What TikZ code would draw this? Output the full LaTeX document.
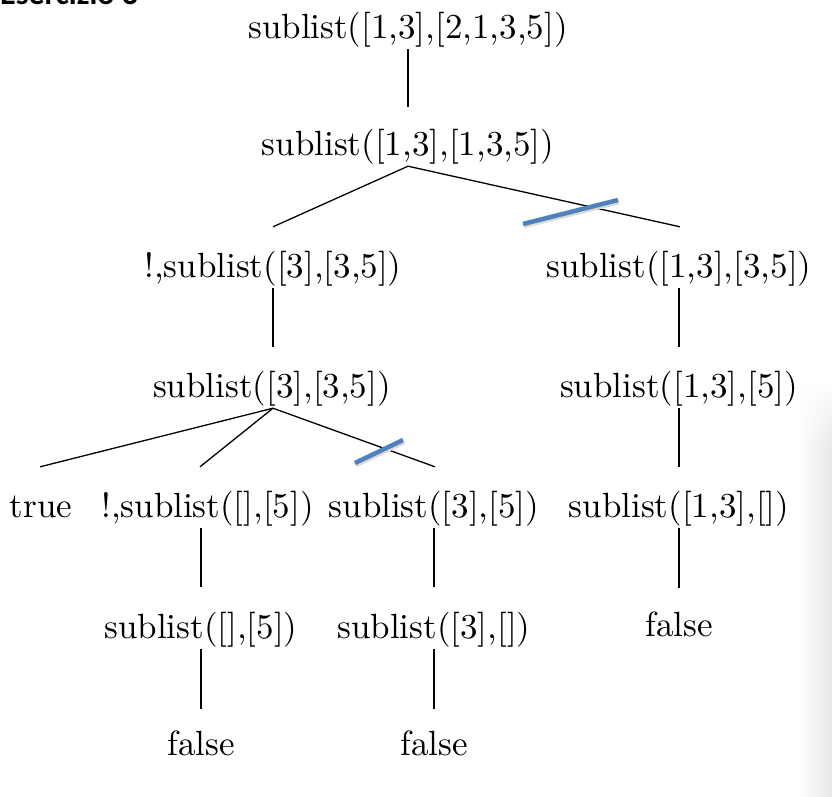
\documentclass[tikz,border=0pt]{standalone}
\usepackage{fontspec}
\newfontfamily\headfont{Carlito}
\newfontfamily\tenfont{lmroman10-regular}[Extension=.otf]
\usetikzlibrary{calc,fadings}
\definecolor{cutblue}{HTML}{4F81BD}
\tikzset{
  term/.style={inner sep=0pt, anchor=base, text height=26pt, text depth=11pt,
               font=\tenfont\fontsize{35}{42}\selectfont},
  edge/.style={line width=1.3pt, black},
  cutmark/.style={line width=4.5pt, cutblue},
  cutshadow/.style={line width=4.5pt, black!15}
}
\begin{document}
\begin{tikzpicture}[x=1pt,y=1pt]
\useasboundingbox (0,0) rectangle (832,-796);
\clip (0,0) rectangle (832,-796);
\fill[white] (0,0) rectangle (832,-796);
% faint page shadow at the right edge
\shade[left color=white, right color=black!9] (797,-450) rectangle (832,-796);
\shade[left color=white, right color=black!9, path fading=north] (797,-380) rectangle (832,-450);

% heading, cut off at the top
\node[anchor=base west, inner sep=0pt, font=\headfont\bfseries\fontsize{32}{38}\selectfont] (head) at (0,-4) {Esercizio 3};

% nodes
\node[term] (n1) at (408,-38) {sublist([1,3],[2,1,3,5])};
\node[term] (n2) at (408,-155) {sublist([1,3],[1,3,5])};
\node[term] (n3) at (273,-277) {!,sublist([3],[3,5])};
\node[term] (n4) at (679,-277) {sublist([1,3],[3,5])};
\node[term] (n5) at (272,-397) {sublist([3],[3,5])};
\node[term] (n6) at (679,-397) {sublist([1,3],[5])};
\node[term] (t)  at (41,-517) {true};
\node[term] (c2) at (207.5,-517) {!,sublist([],[5])};
\node[term] (c3) at (434,-517) {sublist([3],[5])};
\node[term] (n7) at (679,-517) {sublist([1,3],[])};
\node[term] (d1) at (201,-638) {sublist([],[5])};
\node[term] (d2) at (434,-638) {sublist([3],[])};
\node[term] (f3) at (679,-636) {false};
\node[term] (f1) at (201,-755) {false};
\node[term] (f2) at (434,-755) {false};

% edges
\draw[edge] (n1.south) -- ($(n2.north)+(0,22)$);
\draw[edge] (n2.south) -- ($(n3.north)+(0,24)$);
\draw[edge] (n2.south) -- ($(n4.north)+(1,24)$);
\draw[edge] (n3.south) -- ($(n5.north -| n3.north)+(0,24)$);
\draw[edge] (n4.south) -- ($(n6.north)+(0,24)$);
\draw[edge] ($(n5.south)+(1,0)$) -- ($(t.north)+(-1,24)$);
\draw[edge] ($(n5.south)+(1,0)$) -- ($(c2.north -| d1.north)+(-1,24)$);
\draw[edge] ($(n5.south)+(1,0)$) -- ($(c3.north)+(1,24)$);
\draw[edge] (n6.south) -- ($(n7.north)+(0,24)$);
\draw[edge] (c2.south -| d1.south) -- ($(d1.north)+(0,25)$);
\draw[edge] (c3.south) -- ($(d2.north)+(0,25)$);
\draw[edge] (n7.south) -- ($(f3.north)+(0,22)$);
\draw[edge] (d1.south) -- ($(f1.north)+(0,20)$);
\draw[edge] (d2.south) -- ($(f2.north)+(0,20)$);

% cut marks
\draw[cutshadow] (524,-226) -- (619,-202);
\draw[cutmark] (523,-224) -- (618,-200);
\draw[cutshadow] (356,-465) -- (404,-442);
\draw[cutmark] (355,-463) -- (403,-440);
\end{tikzpicture}
\end{document}
